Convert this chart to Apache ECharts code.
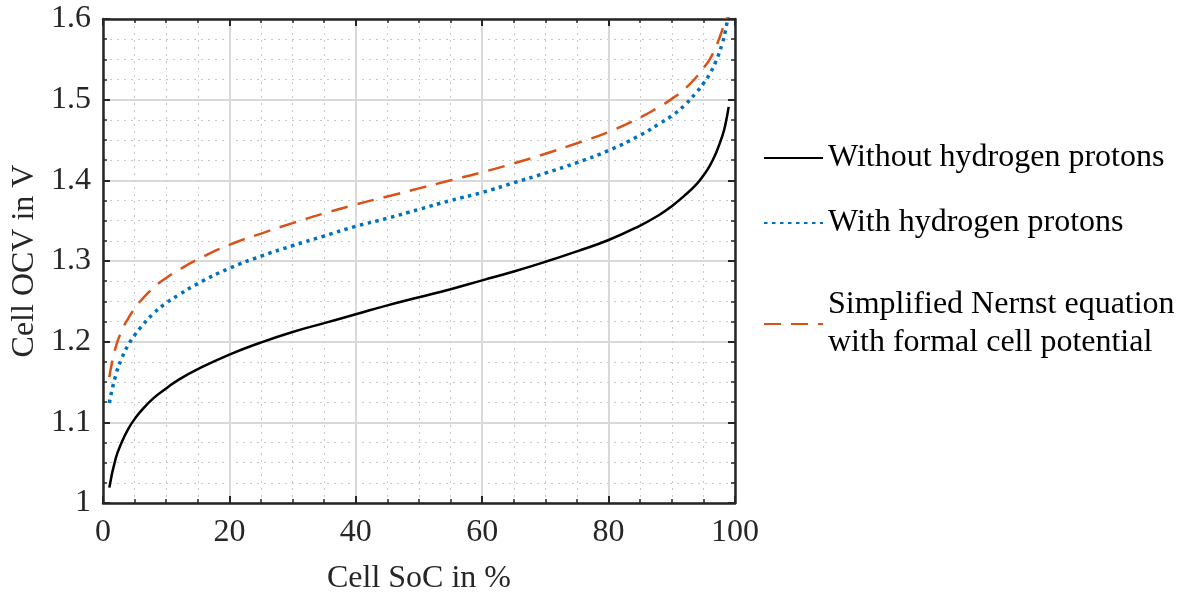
<!DOCTYPE html>
<html>
<head>
<meta charset="utf-8">
<script src="https://cdn.jsdelivr.net/npm/echarts@6/dist/echarts.min.js"></script>
<style>
  html, body { margin: 0; padding: 0; background: #fff; }
  #chart { width: 1184px; height: 595px; }
</style>
</head>
<body>
<div id="chart"></div>
<script>
// cell state of charge in %
const soc = [1, 2, 3, 4, 5, 6, 8, 10, 12, 15, 20, 25, 30, 35, 40, 45, 50, 55, 60, 65, 70, 75, 80, 85, 88, 90, 92, 94, 95, 96, 97, 98, 98.5, 99];

// open circuit voltage in V
const withoutProtons = [1.019, 1.055, 1.076, 1.092, 1.104, 1.114, 1.130, 1.142, 1.153, 1.166, 1.184, 1.199, 1.212, 1.223, 1.234, 1.245, 1.255, 1.265, 1.276, 1.287, 1.299, 1.312, 1.326, 1.344, 1.357, 1.368, 1.381, 1.396, 1.406, 1.418, 1.434, 1.455, 1.470, 1.491];
const withProtons = [1.124, 1.158, 1.180, 1.196, 1.208, 1.218, 1.235, 1.248, 1.258, 1.272, 1.291, 1.306, 1.319, 1.331, 1.343, 1.353, 1.364, 1.375, 1.385, 1.397, 1.409, 1.422, 1.437, 1.456, 1.470, 1.480, 1.493, 1.510, 1.520, 1.532, 1.548, 1.570, 1.586, 1.608];
const simplifiedNernst = [1.156, 1.193, 1.214, 1.229, 1.241, 1.251, 1.267, 1.279, 1.289, 1.302, 1.320, 1.334, 1.347, 1.359, 1.370, 1.380, 1.390, 1.400, 1.410, 1.421, 1.433, 1.446, 1.460, 1.478, 1.491, 1.501, 1.513, 1.529, 1.539, 1.550, 1.566, 1.587, 1.601, 1.622];

const names = ['Without hydrogen protons', 'With hydrogen protons', 'Simplified Nernst equation\nwith formal cell potential'];

const FONT = '"Liberation Serif", "DejaVu Serif", serif';
const AXIS_COLOR = '#262626';
const FS = 32;

function pairs(ys) {
  return soc.map((x, i) => [x, ys[i]]);
}

function frameAxis(extra) {
  return Object.assign({
    axisLine: { show: true, onZero: false, lineStyle: { color: AXIS_COLOR, width: 2.5 } },
    axisTick: { show: true, inside: true, length: 7, lineStyle: { color: AXIS_COLOR, width: 2 } },
    minorTick: { show: true, splitNumber: 4, length: 4, lineStyle: { color: AXIS_COLOR, width: 1.5 } },
    splitLine: { show: false },
    minorSplitLine: { show: false },
    axisLabel: { show: false }
  }, extra);
}

const chart = echarts.init(document.getElementById('chart'), null, { renderer: 'canvas' });

// legend icons: line only, no marker
const legendBase = {
  orient: 'vertical',
  left: 758,
  itemWidth: 59,
  itemHeight: 14,
  itemGap: 0,
  selectedMode: false,
  itemStyle: { opacity: 0 },
  textStyle: { fontFamily: FONT, fontSize: FS, color: '#000', lineHeight: 38 }
};

chart.setOption({
  animation: false,
  backgroundColor: '#fff',
  grid: { left: 103, right: 449, top: 19, bottom: 92, containLabel: false, outerBoundsMode: 'none' },
  legend: [
    Object.assign({}, legendBase, { top: 134, data: [names[0]] }),
    Object.assign({}, legendBase, { top: 199, data: [names[1]] }),
    Object.assign({}, legendBase, { top: 281, data: [names[2]] })
  ],
  xAxis: [
    frameAxis({
      type: 'value', min: 0, max: 100, interval: 20, position: 'bottom',
      name: 'Cell SoC in %', nameLocation: 'middle', nameGap: 60,
      nameTextStyle: { fontFamily: FONT, fontSize: FS, color: '#262626' },
      axisLabel: { show: true, margin: 14, fontFamily: FONT, fontSize: FS, color: '#262626' },
      splitLine: { show: true, lineStyle: { color: '#d9d9d9', width: 2 } },
      minorSplitLine: { show: true, lineStyle: { color: '#c8c8c8', width: 1, type: [2, 5] } }
    }),
    frameAxis({ type: 'value', min: 0, max: 100, interval: 20, position: 'top' })
  ],
  yAxis: [
    frameAxis({
      type: 'value', min: 1, max: 1.6, interval: 0.1, position: 'left',
      name: 'Cell OCV in V', nameLocation: 'middle', nameGap: 57,
      nameTextStyle: { fontFamily: FONT, fontSize: FS, color: '#262626' },
      axisLabel: {
        show: true, margin: 12, fontFamily: FONT, fontSize: FS, color: '#262626',
        formatter: v => String(Math.round(v * 10) / 10)
      },
      splitLine: { show: true, lineStyle: { color: '#d9d9d9', width: 2 } },
      minorSplitLine: { show: true, lineStyle: { color: '#c8c8c8', width: 1, type: [2, 5] } }
    }),
    frameAxis({ type: 'value', min: 1, max: 1.6, interval: 0.1, position: 'right' })
  ],
  series: [
    {
      name: names[0], type: 'line', data: pairs(withoutProtons),
      symbol: 'none', smooth: true, clip: true,
      lineStyle: { color: '#000', width: 2.5, type: 'solid' },
      itemStyle: { color: '#000' }
    },
    {
      name: names[1], type: 'line', data: pairs(withProtons),
      symbol: 'none', smooth: true, clip: true,
      lineStyle: { color: '#0072BD', width: 3.5, type: [3.5, 4.5] },
      itemStyle: { color: '#0072BD' }
    },
    {
      name: names[2], type: 'line', data: pairs(simplifiedNernst),
      symbol: 'none', smooth: true, clip: true,
      lineStyle: { color: '#D95319', width: 2.5, type: [17, 10] },
      itemStyle: { color: '#D95319' }
    }
  ]
});
</script>
</body>
</html>
